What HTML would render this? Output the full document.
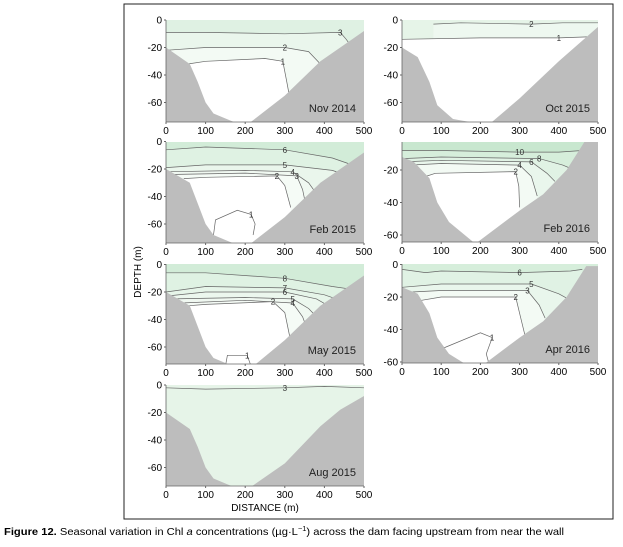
<!DOCTYPE html>
<html><head><meta charset="utf-8"><style>
body{margin:0;background:#fff;width:623px;height:542px;overflow:hidden}
svg{font-family:"Liberation Sans",sans-serif}
</style></head><body>
<svg id="fig" width="623" height="542" viewBox="0 0 623 542" xmlns="http://www.w3.org/2000/svg">
<rect x="124" y="4" width="489" height="515" fill="none" stroke="#222" stroke-width="1"/>
<text x="0" y="0" transform="translate(141,272) rotate(-90)" text-anchor="middle" font-size="10">DEPTH (m)</text>
<text x="265" y="511" text-anchor="middle" font-size="10">DISTANCE (m)</text>
<text x="4" y="535" font-size="10.5" textLength="560" lengthAdjust="spacingAndGlyphs"><tspan font-weight="bold">Figure 12.</tspan> Seasonal variation in Chl <tspan font-style="italic">a</tspan> concentrations (µg·L<tspan font-size="7" dy="-4">−1</tspan><tspan dy="4">) across the dam facing upstream from near the wall</tspan></text>
</svg>
<script>
const xTicks=[0,100,200,300,400,500];
const yTicks=[0,-20,-40,-60];
const panelNames=["Nov 2014","Feb 2015","May 2015","Aug 2015","Oct 2015","Feb 2016","Apr 2016"];
// layout: [x0px,x500px,depth0px,pxPerM,topPx,bottomPx]
const layout=[[166,364,20,1.375,20,122],[166,364,141.5,1.375,142,243],[166,364,264.5,1.375,264,364],[166,364,385,1.375,385,486],[402,598,20,1.375,20,122],[402,598,137.5,1.625,142,242],[402,598,264.5,1.625,264,363]];
// bank profiles (distance, depth)
const leftBanks=[
[[0,-20],[60,-32],[80,-45],[100,-60],[120,-68],[170,-74]],
[[0,-20],[60,-30],[80,-45],[100,-60],[120,-68],[170,-74]],
[[0,-20],[60,-30],[80,-45],[100,-60],[120,-68],[170,-74]],
[[0,-20],[60,-32],[80,-45],[100,-60],[120,-68],[170,-74]],
[[0,-20],[40,-27],[70,-45],[90,-62],[130,-72],[170,-74]],
[[0,-12],[30,-15],[70,-25],[90,-40],[120,-52],[180,-64]],
[[0,-14],[40,-18],[70,-30],[90,-45],[120,-55],[180,-64]]];
const rightBanks=[
[[215,-74],[300,-55],[390,-30],[460,-16],[500,-8]],
[[215,-74],[300,-55],[390,-30],[460,-16],[500,-8]],
[[220,-74],[300,-55],[390,-30],[460,-16],[500,-8]],
[[215,-74],[300,-57],[390,-30],[440,-18],[500,-8]],
[[230,-74],[300,-57],[400,-30],[500,-5]],
[[195,-64],[300,-45],[360,-35],[420,-20],[470,-1]],
[[195,-64],[300,-45],[360,-35],[420,-20],[470,-1]]];
const topColors=["#dff1e3","#d2ecd8","#d2ecd8","#e6f4e8","#e6f4e8","#c8e7cf","#d6eedb"];
// contour boundaries: [level, fillBelow, points]
const contours=[
[[3,"#eaf6ec",[[0,-9],[100,-9],[300,-10],[440,-9],[455,-14],[470,-20]]],[2,"#f3faf4",[[0,-22],[100,-20],[300,-20],[360,-23],[390,-32]]],[1,"#ffffff",[[55,-32],[100,-30],[250,-28],[295,-30],[305,-45],[312,-56]]]],
[[6,"#dff2e3",[[0,-6],[100,-4],[300,-6],[420,-12],[460,-16]]],[5,"#eaf6ec",[[0,-19],[100,-17],[300,-17],[420,-21],[450,-24]]],[4,"#f0f8f1",[[0,-22],[200,-21],[320,-22],[360,-30],[380,-38]]],[3,"#f5fbf6",[[10,-24],[200,-23],[330,-25],[345,-35],[350,-42]]],[2,"#ffffff",[[45,-27],[100,-26],[280,-25],[300,-32],[315,-48]]],[1,"#ffffff",[[120,-68],[125,-57],[180,-50],[215,-53],[225,-60],[220,-68]]]],
[[8,"#dff2e3",[[0,-6],[100,-6],[300,-10],[420,-16],[470,-18]]],[7,"#e6f5e9",[[0,-20],[100,-16],[300,-17],[400,-22],[430,-25]]],[6,"#ecf7ee",[[0,-23],[100,-20],[300,-20],[380,-25],[410,-30]]],[5,"#f0f8f1",[[20,-25],[200,-24],[320,-25],[360,-32],[380,-38]]],[4,"#f5fbf6",[[40,-28],[200,-26],[320,-28],[345,-38],[355,-46]]],[2,"#ffffff",[[55,-30],[100,-29],[270,-27],[300,-35],[312,-52]]],[1,"#ffffff",[[150,-74],[155,-66],[205,-66],[215,-74]]]],
[[3,"#e6f4e8",[[0,-2],[100,-3],[300,-2],[400,-1],[500,-2]]]],
[[2,"#eef8f0",[[80,-3],[150,-2],[330,-3],[410,-2],[500,-2]]],[1,"#ffffff",[[0,-14],[200,-13],[400,-13],[500,-12]]]],
[[10,"#d6eedb",[[0,-8],[100,-8],[300,-9],[400,-9],[460,-8]]],[8,"#e0f2e4",[[0,-13],[100,-12],[350,-13],[410,-17],[440,-20]]],[6,"#e9f6ec",[[0,-15],[100,-14],[330,-15],[370,-22],[390,-27]]],[4,"#f3faf4",[[20,-17],[100,-16],[300,-17],[330,-24],[345,-36]]],[2,"#ffffff",[[60,-24],[85,-22],[290,-21],[298,-30],[300,-43]]]],
[[6,"#e0f2e4",[[0,-3],[60,-5],[100,-4],[300,-5],[430,-4],[460,-3]]],[5,"#e9f6ec",[[0,-14],[100,-12],[330,-12],[400,-18],[430,-22]]],[3,"#f3faf4",[[20,-17],[100,-16],[320,-16],[350,-25],[365,-33]]],[2,"#ffffff",[[50,-22],[100,-20],[290,-20],[300,-30],[315,-45]]],[1,"#ffffff",[[100,-52],[200,-42],[230,-45],[215,-55],[225,-64]]]]];
const NS="http://www.w3.org/2000/svg";
const svg=document.getElementById("fig");
function mk(t,a){const e=document.createElementNS(NS,t);for(const k in a)e.setAttribute(k,a[k]);return e;}
panelNames.forEach((name,i)=>{
  const [x0,x1,d0,s,top,bot]=layout[i];
  const sx=v=>x0+(x1-x0)*v/500, sy=v=>d0-v*s;
  const g=mk("g",{});
  
  
  svg.appendChild(g);
  const cid="clip"+i;
  const cp=mk("clipPath",{id:cid});cp.appendChild(mk("rect",{x:x0,y:top,width:x1-x0,height:bot-top}));g.appendChild(cp);
  const inner=mk("g",{"clip-path":"url(#"+cid+")"});g.appendChild(inner);
  const bg=mk("rect",{x:x0,y:top,width:x1-x0,height:bot-top,fill:topColors[i]});
  
  
  inner.appendChild(bg);
  const pts=a=>a.map(p=>sx(p[0]).toFixed(1)+","+sy(p[1]).toFixed(1)).join(" ");
  contours[i].forEach(c=>{
    const [lvl,col,p]=c;
    const poly=mk("polygon",{points:pts(p)+" "+sx(p[p.length-1][0])+","+(bot+5)+" "+sx(p[0][0])+","+(bot+5),fill:col});
    
    
    inner.appendChild(poly);
    const ln=mk("polyline",{points:pts(p),fill:"none",stroke:"#666","stroke-width":0.7});
    
    
    inner.appendChild(ln);
    const m=p[Math.floor(p.length/2)];
    const lb=mk("text",{x:sx(m[0]),y:sy(m[1])+3,"font-size":8,"text-anchor":"middle",fill:"#333"});
    lb.textContent=lvl;
    
    
    inner.appendChild(lb);
  });
  const lb=leftBanks[i], rb=rightBanks[i];
  const lp=mk("polygon",{points:sx(0)+","+(bot+5)+" "+pts(lb)+" "+sx(lb[lb.length-1][0])+","+(bot+5),fill:"#bdbdbd"});
  
  
  inner.appendChild(lp);
  const rp=mk("polygon",{points:sx(rb[0][0])+","+(bot+5)+" "+pts(rb)+" "+sx(500)+","+sy(rb[rb.length-1][1])+" "+sx(500)+","+(bot+5),fill:"#bdbdbd"});
  
  
  inner.appendChild(rp);
  const ax=mk("path",{d:`M${x0},${top}V${bot}H${x1}`,fill:"none",stroke:"#666","stroke-width":0.8});
  
  
  g.appendChild(ax);
  xTicks.forEach(t=>{
    const tx=mk("text",{x:sx(t),y:bot+12,"font-size":10,"text-anchor":"middle"});tx.textContent=t;
    
    
    g.appendChild(tx);
    g.appendChild(mk("line",{x1:sx(t),x2:sx(t),y1:bot,y2:bot+2,stroke:"#666"}));
  });
  yTicks.forEach(t=>{
    const y=sy(t); if(y<top-1||y>bot)return;
    const ty=mk("text",{x:x0-4,y:y+3.5,"font-size":10,"text-anchor":"end"});ty.textContent=t===0?"0":"-"+(-t);
    
    
    g.appendChild(ty);
    g.appendChild(mk("line",{x1:x0-2,x2:x0,y1:y,y2:y,stroke:"#666"}));
  });
  const nt=mk("text",{x:x1-8,y:bot-10,"font-size":11,"text-anchor":"end",fill:"#222"});nt.textContent=name;
  
  
  g.appendChild(nt);
});
</script>
</body></html>
